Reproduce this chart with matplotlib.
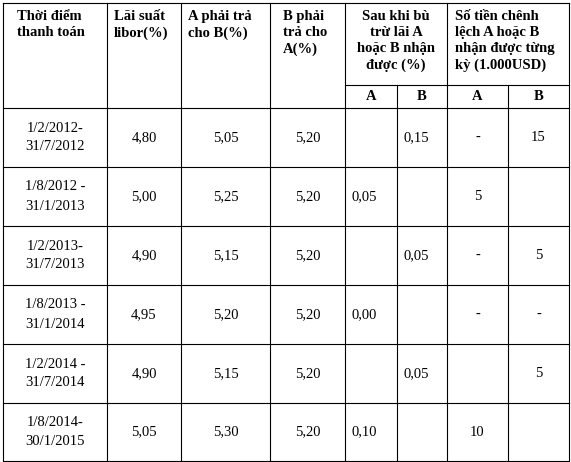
import matplotlib
matplotlib.use('Agg')
import matplotlib.pyplot as plt

dates = ['1/2/2012-\n31/7/2012', '1/8/2012 -\n31/1/2013', '1/2/2013-\n31/7/2013',
         '1/8/2013 -\n31/1/2014', '1/2/2014 -\n31/7/2014', '1/8/2014-\n30/1/2015']
libor = ['4,80', '5,00', '4,90', '4,95', '4,90', '5,05']
a_pay = ['5,05', '5,25', '5,15', '5,20', '5,15', '5,30']
b_pay = ['5,20', '5,20', '5,20', '5,20', '5,20', '5,20']
net_a = ['', '0,05', '', '0,00', '', '0,10']
net_b = ['0,15', '', '0,05', '', '0,05', '']
diff_a = ['-', '5', '-', '-', '', '10']
diff_b = ['15', '', '5', '-', '5', '']

headers = ['Thời điểm\nthanh toán', 'Lãi suất\nlibor(%)', 'A phải trả\ncho B(%)',
           'B phải\ntrả cho\nA(%)']

xs = [3, 107, 181, 270, 345, 397, 447, 508, 569]
ys = [3, 85, 108, 167, 226, 285, 344, 403, 461]

plt.rcParams['font.family'] = ['Liberation Serif', 'DejaVu Serif']
fig = plt.figure(figsize=(5.71, 4.62), dpi=100)
ax = fig.add_axes([0, 0, 1, 1])
ax.set_xlim(0, 571)
ax.set_ylim(462, 0)
ax.axis('off')

lw = 0.8
for y in [ys[0]] + ys[2:]:
    ax.plot([xs[0], xs[-1]], [y, y], color='black', lw=lw)
ax.plot([xs[4], xs[-1]], [ys[1], ys[1]], color='black', lw=lw)
for i, x in enumerate(xs):
    y0 = ys[1] if i in (5, 7) else ys[0]
    ax.plot([x, x], [y0, ys[-1]], color='black', lw=lw)

fs = 10.5
hx = [14, 7, 7, 13]
for i, h in enumerate(headers):
    ax.text(xs[i] + hx[i], ys[0] + 7, h, fontsize=fs, fontweight='bold',
            va='top', ha='left', linespacing=1.3)
ax.text((xs[4] + xs[6]) / 2, ys[0] + 7, 'Sau khi bù\ntrừ lãi A\nhoặc B nhận\nđược (%)',
        fontsize=fs, fontweight='bold', va='top', ha='center', linespacing=1.3)
ax.text(xs[6] + 8, ys[0] + 7, 'Số tiền chênh\nlệch A hoặc B\nnhận được từng\nkỳ (1.000USD)',
        fontsize=fs, fontweight='bold', va='top', ha='left', linespacing=1.3)
for j in range(4, 8):
    ax.text((xs[j] + xs[j + 1]) / 2, (ys[1] + ys[2]) / 2, ['A', 'B'][j % 2],
            fontsize=fs, fontweight='bold', ha='center', va='center')

for r in range(len(dates)):
    yc = (ys[r + 2] + ys[r + 3]) / 2
    ax.text((xs[0] + xs[1]) / 2, yc, dates[r], fontsize=fs, ha='center', va='center',
            linespacing=1.6)
    for j, col in enumerate([libor, a_pay, b_pay]):
        ax.text((xs[j + 1] + xs[j + 2]) / 2, yc, col[r], fontsize=fs, ha='center', va='center')
    ax.text(xs[4] + 7, yc, net_a[r], fontsize=fs, ha='left', va='center')
    ax.text(xs[5] + 7, yc, net_b[r], fontsize=fs, ha='left', va='center')
    ax.text((xs[6] + xs[7]) / 2, yc, diff_a[r], fontsize=fs, ha='center', va='center')
    ax.text((xs[7] + xs[8]) / 2, yc, diff_b[r], fontsize=fs, ha='center', va='center')

fig.savefig('out.png', dpi=100)
